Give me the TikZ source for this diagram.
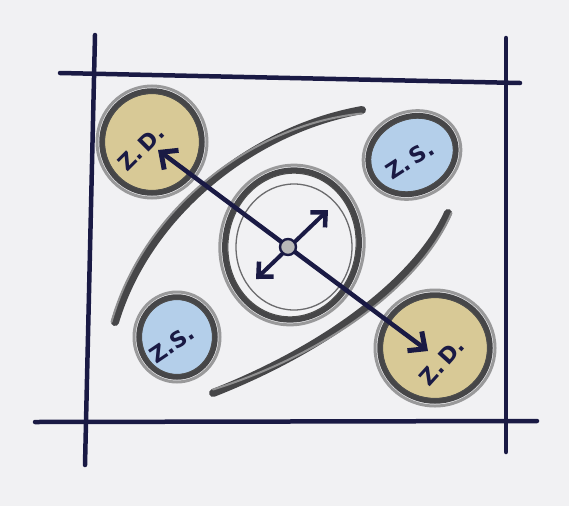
\documentclass[tikz,border=0pt]{standalone}
\usepackage{fontspec}
\newfontfamily\hand{DejaVu Sans}
\usetikzlibrary{arrows.meta}
\definecolor{paper}{RGB}{241,241,243}
\definecolor{navy}{RGB}{26,26,68}
\definecolor{tanfill}{RGB}{216,201,150}
\definecolor{skyfill}{RGB}{180,207,234}
\definecolor{pencil}{RGB}{70,70,72}
\newcommand\pencilring[6]{%
  \begin{scope}[shift={(#1,#2)},rotate=#6]
    \fill[#5] (0,0) ellipse [x radius=#3-9, y radius=#4-9];
    \draw[pencil!55!white, line width=3] (0,0) ellipse [x radius=#3-2, y radius=#4-2];
    \draw[pencil, line width=5.5] (0,0) ellipse [x radius=#3-7, y radius=#4-7];
    \draw[black!70, line width=1.1] (0,0) ellipse [x radius=#3-9.5, y radius=#4-9.5];
  \end{scope}}
\tikzset{
  frameline/.style={navy, line width=4.5, line cap=round},
  arcstroke/.style={pencil, line width=8, line cap=round},
  arcshade/.style={pencil!60!white, line width=2, line cap=round},
  navyarrow/.style={navy, line width=4.5, {Straight Barb[length=13pt,width=24pt,line width=5pt]}-{Straight Barb[length=13pt,width=24pt,line width=5pt]}},
  shortarrow/.style={navy, line width=4, {Straight Barb[length=11pt,width=21pt,line width=4.5pt]}-{Straight Barb[length=11pt,width=21pt,line width=4.5pt]}},
  lab/.style={text=navy, font=\hand\bfseries\fontsize{22}{22}\selectfont, inner sep=0pt},
}
\begin{document}
\begin{tikzpicture}[x=1pt,y=-1pt]
\useasboundingbox (0,0) rectangle (569,506);
\fill[paper] (0,0) rectangle (569,506);

% frame
\coordinate (lt) at (95,35);  \coordinate (lb) at (85,465);
\coordinate (rt) at (506,38); \coordinate (rb) at (506,452);
\coordinate (tl) at (60,73);  \coordinate (tr) at (520,83);
\coordinate (bl) at (35,422); \coordinate (br) at (537,421);
\draw[frameline] (lt) -- (lb);
\draw[frameline] (rt) -- (rb);
\draw[frameline] (tl) -- (tr);
\draw[frameline] (bl) -- (br);

% long arcs
\coordinate (a1s) at (115,322); \coordinate (a1e) at (362,110);
\coordinate (a2s) at (213,393); \coordinate (a2e) at (448,213);
\draw[arcstroke] (a1s) .. controls (147,215) and (250,130) .. (a1e);
\draw[arcshade] ([xshift=-3.5pt]a1s) .. controls (142,213) and (248,125) .. ([yshift=-3.5pt]a1e);
\draw[arcstroke] (a2s) .. controls (335,345) and (420,275) .. (a2e);
\draw[arcshade] ([yshift=3.5pt]a2s) .. controls (338,350) and (424,278) .. ([xshift=3.5pt]a2e);

% small circles
\pencilring{152}{142}{57}{58}{tanfill}{0}
\pencilring{412}{155}{52}{45}{skyfill}{25}
\pencilring{177}{337}{45}{47}{skyfill}{0}
\pencilring{435}{348}{62}{60}{tanfill}{0}

% central ellipse
\begin{scope}[shift={(292,245)},rotate=-8]
  \draw[pencil!55!white, line width=3] (0,0) ellipse [x radius=72, y radius=80];
  \draw[pencil, line width=5.5] (0,0) ellipse [x radius=67, y radius=75];
  \draw[black!70, line width=1.1] (0,0) ellipse [x radius=64, y radius=72];
\end{scope}
\draw[pencil!80, line width=1.3] (294,247) ellipse [x radius=58, y radius=63];

% labels
\node[lab, rotate=45] (zd1) at (141,148) {Z.\,D.};
\node[lab, rotate=33] (zs1) at (410,160) {Z.\,S.};
\node[lab, rotate=34] (zs2) at (172,344) {Z.S.};
\node[lab, rotate=48] (zd2) at (442,362) {Z.\,D.};

% arrows
\coordinate (L1) at (158,150);
\coordinate (L2) at (428,351);
\coordinate (S1) at (328,210);
\coordinate (S2) at (256,279);
\draw[navyarrow] (L1) -- (L2);
\draw[shortarrow] (S2) -- (S1);
\node[circle, draw=navy, fill=gray!55, line width=2.4, minimum size=16, inner sep=0pt] (dot) at (288,247) {};
\end{tikzpicture}
\end{document}
